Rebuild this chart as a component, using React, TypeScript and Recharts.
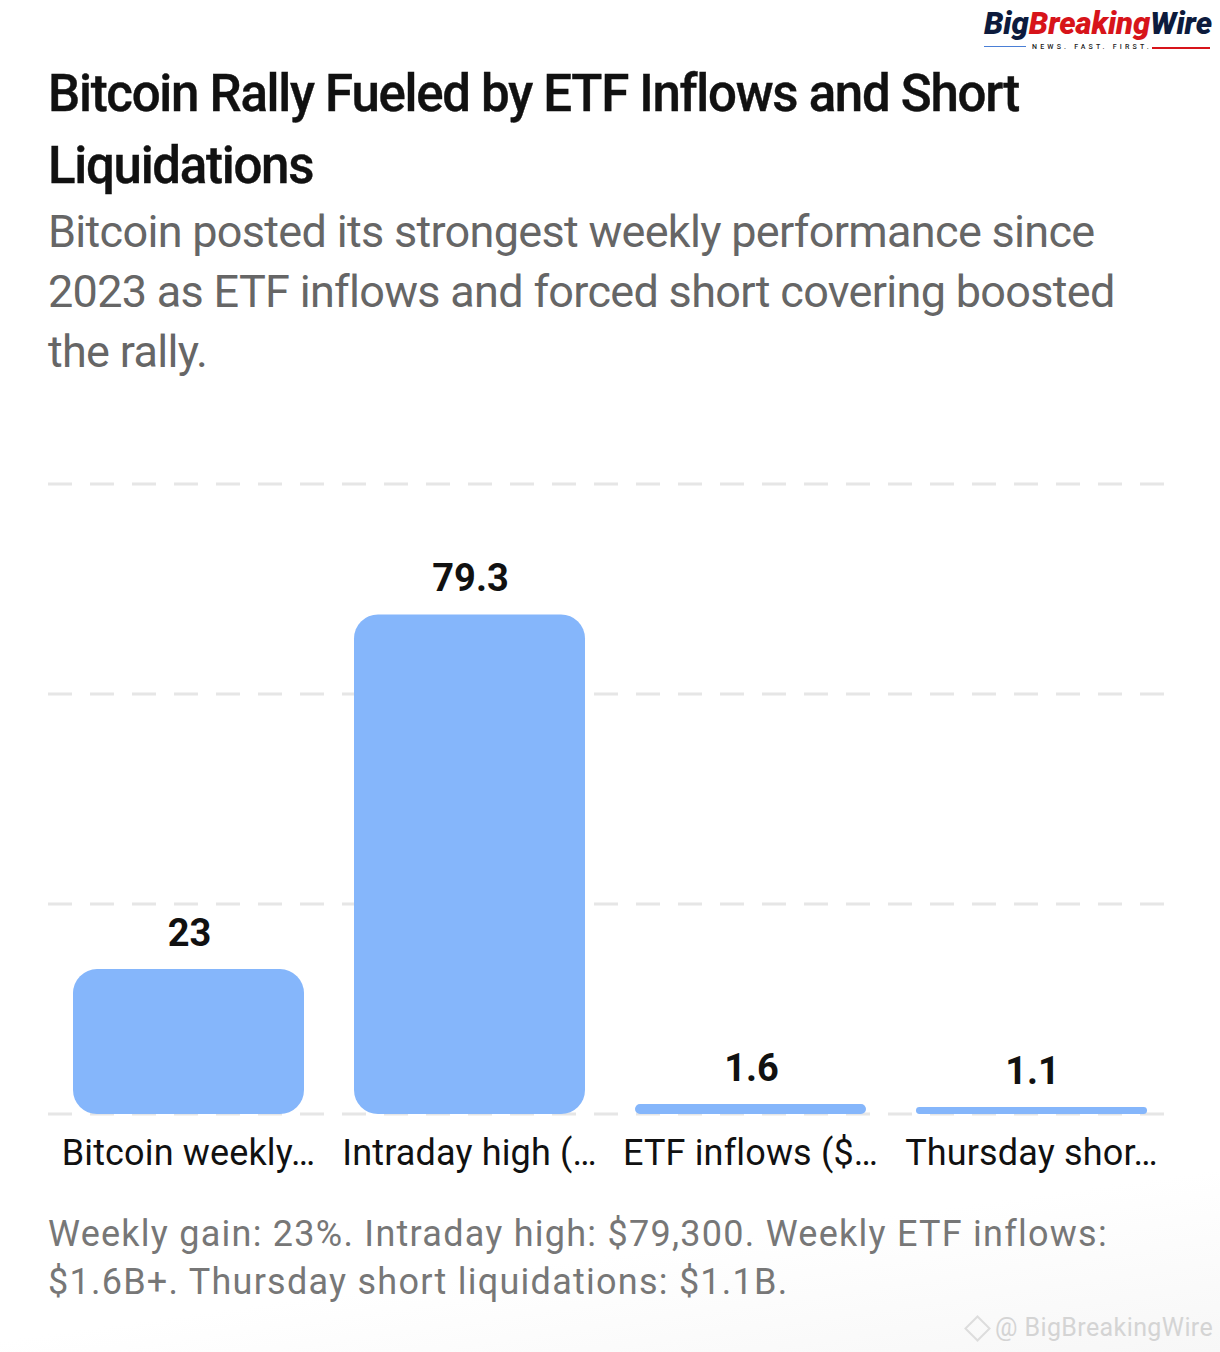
import React from 'react';
import { BarChart, Bar, XAxis, YAxis, CartesianGrid, LabelList } from 'recharts';

const categories = ['Bitcoin weekly…', 'Intraday high (…', 'ETF inflows ($…', 'Thursday shor…'];
const values = [23, 79.3, 1.6, 1.1];
const valueLabels = ['23', '79.3', '1.6', '1.1'];
const yTicks = [0, 33.33, 66.67, 100];

const data = categories.map((name, i) => ({ name, value: values[i], label: valueLabels[i] }));

const font = 'Roboto, sans-serif';

const App: React.FC = () => {
  return (
    <div
      style={{
        position: 'absolute',
        left: 0,
        top: 0,
        width: 1220,
        height: 1352,
        overflow: 'hidden',
        fontFamily: font,
        background: 'linear-gradient(172deg, #ffffff 88%, #f7f7f7 100%)',
      }}
    >
      {/* logo */}
      <div style={{ position: 'absolute', left: 984, top: 5, fontSize: 31, fontWeight: 900, fontStyle: 'italic', letterSpacing: -0.05, color: '#0d1b3d', whiteSpace: 'nowrap' }}>
        Big<span style={{ color: '#d7141a' }}>Breaking</span>Wire
      </div>
      <div style={{ position: 'absolute', left: 984, top: 46, width: 42, height: 1, background: '#4a7fd6' }} />
      <div style={{ position: 'absolute', left: 1032, top: 43, fontSize: 7, fontWeight: 500, letterSpacing: 3.2, color: '#222', whiteSpace: 'nowrap' }}>
        NEWS. FAST. FIRST.
      </div>
      <div style={{ position: 'absolute', left: 1152, top: 47, width: 58, height: 2, background: '#d7141a' }} />

      <div style={{ position: 'absolute', left: 48, top: 58, width: 1040, fontSize: 51, lineHeight: '72px', fontWeight: 500, letterSpacing: -1.28, color: '#111', WebkitTextStroke: '0.4px #111' }}>
        Bitcoin Rally Fueled by ETF Inflows and Short Liquidations
      </div>
      <div style={{ position: 'absolute', left: 48, top: 202, width: 1120, fontSize: 45, lineHeight: '60px', letterSpacing: -0.7, color: '#666' }}>
        Bitcoin posted its strongest weekly performance since 2023 as ETF inflows and forced short covering boosted the rally.
      </div>

      <div style={{ position: 'absolute', left: 0, top: 0 }}>
        <BarChart
          width={1220}
          height={1352}
          data={data}
          barCategoryGap={25}
          margin={{ left: 48, right: 48, top: 484, bottom: 178 }}
        >
          <CartesianGrid horizontal vertical={false} stroke="#e6e6e6" strokeWidth={3} strokeDasharray="24 18" />
          <YAxis hide domain={[0, 100]} ticks={yTicks} />
          <XAxis
            dataKey="name"
            height={60}
            interval={0}
            axisLine={false}
            tickLine={false}
            tickMargin={19}
            tick={{ fontSize: 36, fill: '#111', fontFamily: font, letterSpacing: 0.15 }}
          />
          <Bar dataKey="value" fill="#85b6fb" radius={24} isAnimationActive={false}>
            <LabelList dataKey="label" position="top" offset={23} dx={1} style={{ fontSize: 38, fontWeight: 700, fill: '#111', fontFamily: font }} />
          </Bar>
        </BarChart>
      </div>

      <div style={{ position: 'absolute', left: 48, top: 1210, width: 1120, fontSize: 36, lineHeight: '48px', letterSpacing: 1.25, color: '#777' }}>
        Weekly gain: 23%. Intraday high: $79,300. Weekly ETF inflows: $1.6B+. Thursday short liquidations: $1.1B.
      </div>
      {/* watermark */}
      <div style={{ position: 'absolute', left: 968, top: 1319, width: 15, height: 15, border: '2px solid #dddddd', transform: 'rotate(45deg)' }} />
      <div style={{ position: 'absolute', left: 995, top: 1313, fontSize: 25, letterSpacing: 0.4, color: '#d4d4d4', whiteSpace: 'nowrap' }}>
        @ BigBreakingWire
      </div>
    </div>
  );
};

export default App;
